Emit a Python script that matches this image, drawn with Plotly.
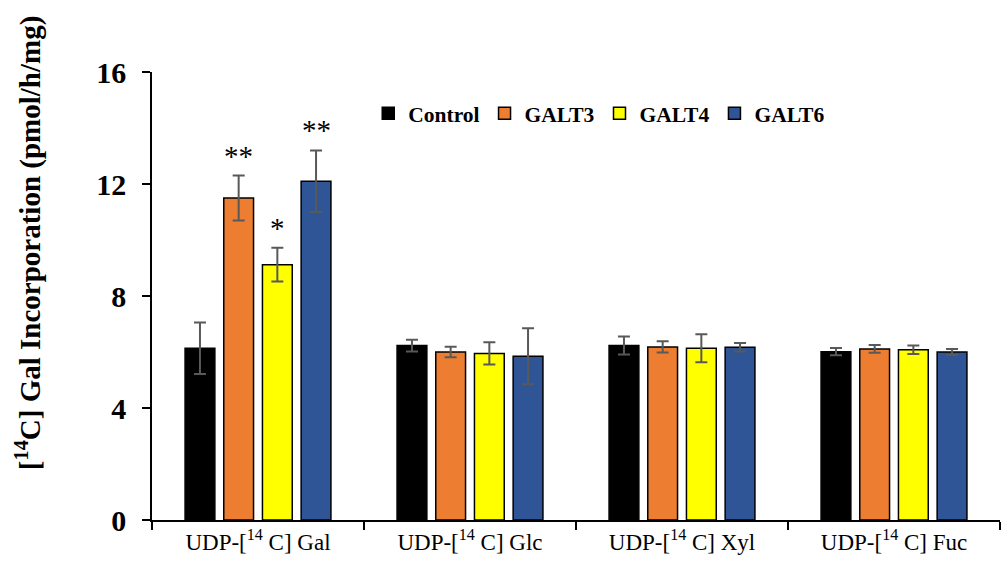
import plotly.graph_objects as go

categories = ["UDP-[<sup>14</sup> C] Gal", "UDP-[<sup>14</sup> C] Glc",
              "UDP-[<sup>14</sup> C] Xyl", "UDP-[<sup>14</sup> C] Fuc"]
series_names = ["Control", "GALT3", "GALT4", "GALT6"]
colors = ["#000000", "#ED7D31", "#FFFF00", "#2F5597"]

control = [6.13, 6.23, 6.23, 6.01]
galt3 = [11.5, 6.00, 6.18, 6.11]
galt4 = [9.12, 5.95, 6.13, 6.08]
galt6 = [12.1, 5.85, 6.17, 6.00]

control_err = [0.92, 0.21, 0.32, 0.13]
galt3_err = [0.80, 0.19, 0.20, 0.14]
galt4_err = [0.60, 0.40, 0.50, 0.15]
galt6_err = [1.10, 1.00, 0.15, 0.11]

stars = {1: ["**", "", "", ""], 2: ["*", "", "", ""], 3: ["**", "", "", ""]}
y_title = "[<sup>14</sup>C] Gal Incorporation (pmol/h/mg)"

values = [control, galt3, galt4, galt6]
errors = [control_err, galt3_err, galt4_err, galt6_err]

fig = go.Figure()
for name, col, v, e in zip(series_names, colors, values, errors):
    fig.add_trace(go.Bar(
        x=categories, y=v, name=name,
        marker=dict(color=col, line=dict(color="#000000", width=1.5)),
        error_y=dict(type="data", array=e, visible=True, color="#595959",
                     thickness=2, width=6),
    ))

# significance stars
bargap = 0.27
bargroupgap = 0.23
cat_px = 212.0
slot = (1 - bargap) * cat_px / 4
for si, labels in stars.items():
    for ci, lab in enumerate(labels):
        if not lab:
            continue
        fig.add_annotation(
            x=categories[ci], y=values[si][ci] + errors[si][ci],
            xref="x", yref="y", text=lab, showarrow=False,
            xshift=(si - 1.5) * slot, yanchor="bottom", yshift=2,
            font=dict(family="Liberation Serif", size=29, color="#000000"),
        )

# y-axis title (placed as annotation to match reference position)
fig.add_annotation(
    x=0, y=0.618, xref="paper", yref="paper", text=y_title, showarrow=False,
    textangle=-90, xanchor="center", yanchor="middle", xshift=-124,
    font=dict(family="Liberation Serif", size=29, color="#000000", weight="bold"),
)

fig.update_layout(
    barmode="group", bargap=bargap, bargroupgap=bargroupgap,
    width=1002, height=562,
    margin=dict(l=152, r=2, t=72, b=42),
    plot_bgcolor="white", paper_bgcolor="white",
    font=dict(family="Liberation Serif", color="#000000"),
    legend=dict(orientation="h", x=0.255, y=0.908, xanchor="left", yanchor="middle",
                font=dict(family="Liberation Serif", size=21.5, color="#000000",
                          weight="bold"),
                itemwidth=30, tracegroupgap=0, bgcolor="rgba(0,0,0,0)"),
    yaxis=dict(range=[0, 16], tickvals=[0, 4, 8, 12, 16], showgrid=False,
               showline=True, linecolor="#000000", linewidth=1.5,
               ticks="outside", ticklen=8, tickcolor="#000000", tickwidth=1.5,
               ticklabelstandoff=10,
               tickfont=dict(family="Liberation Serif", size=30, color="#000000",
                             weight="bold"),
               zeroline=False),
    xaxis=dict(showgrid=False, showline=True, linecolor="#000000", linewidth=2,
               ticks="outside", tickson="boundaries", ticklen=8,
               tickcolor="#000000", tickwidth=1.5,
               tickfont=dict(family="Liberation Serif", size=23, color="#000000")),
)

fig.write_html("out.html")
